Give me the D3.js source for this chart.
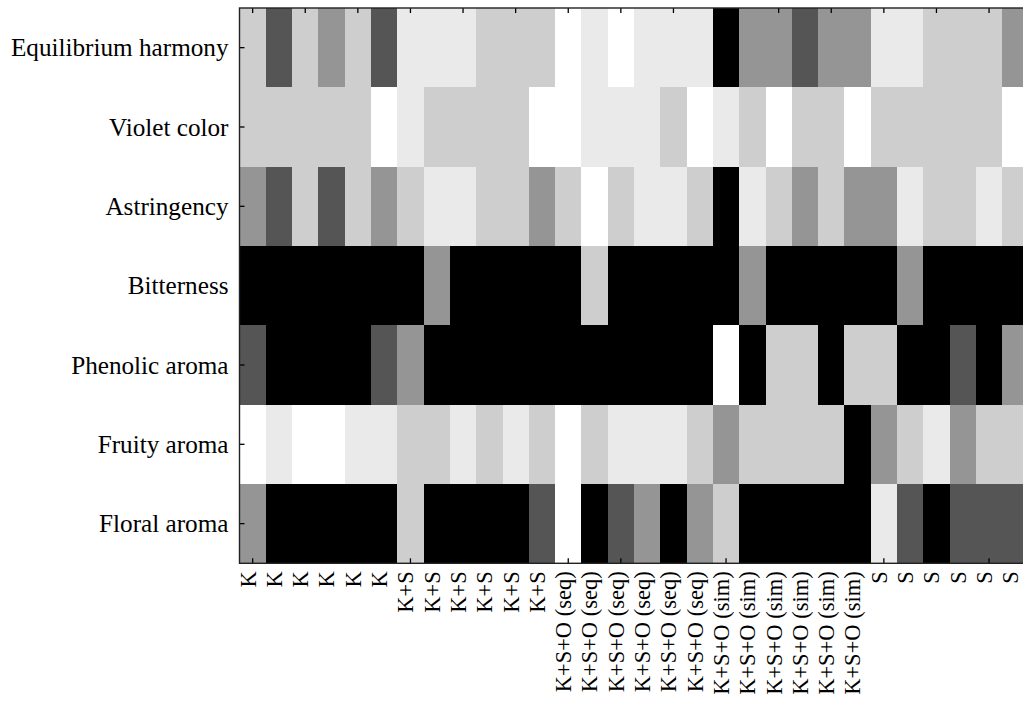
<!DOCTYPE html>
<html>
<head>
<meta charset="utf-8">
<script src="https://cdn.jsdelivr.net/npm/d3@7"></script>
<style>
  html, body { margin: 0; padding: 0; background: #fff; }
  svg { display: block; }
  text { font-family: "Liberation Serif", "Times New Roman", serif; fill: #000; }
</style>
</head>
<body>
<svg id="chart" width="1023" height="701"></svg>
<script>
// attributes, top to bottom
const attributes = [
  "Equilibrium harmony",
  "Violet color",
  "Astringency",
  "Bitterness",
  "Phenolic aroma",
  "Fruity aroma",
  "Floral aroma"
];

// treatments, 6 replicates each
const treatments = ["K", "K+S", "K+S+O (seq)", "K+S+O (sim)", "S"];
const samples = treatments.flatMap(t => [t, t, t, t, t, t]);

// shade level per sample (0 = white ... 5 = black)
const equilibriumHarmony = [2,4,2,3,2,4, 1,1,1,2,2,2, 0,1,0,1,1,1, 5,3,3,4,3,3, 1,1,2,2,2,3];
const violetColor        = [2,2,2,2,2,0, 1,2,2,2,2,0, 0,1,1,1,2,0, 1,2,0,2,2,0, 2,2,2,2,2,0];
const astringency        = [3,4,2,4,2,3, 2,1,1,2,2,3, 2,0,2,1,1,2, 5,1,2,3,2,3, 3,1,2,2,1,2];
const bitterness         = [5,5,5,5,5,5, 5,3,5,5,5,5, 5,2,5,5,5,5, 5,3,5,5,5,5, 5,3,5,5,5,5];
const phenolicAroma      = [4,5,5,5,5,4, 3,5,5,5,5,5, 5,5,5,5,5,5, 0,5,2,2,5,2, 2,5,5,4,5,3];
const fruityAroma        = [0,1,0,0,1,1, 2,2,1,2,1,2, 0,2,1,1,1,2, 3,2,2,2,2,5, 3,2,1,3,2,2];
const floralAroma        = [3,5,5,5,5,5, 2,5,5,5,5,4, 0,5,4,3,5,3, 2,5,5,5,5,5, 1,4,5,4,4,4];

const levels = [0, 1, 2, 3, 4, 5];
const grays = ["#ffffff", "#eaeaea", "#cecece", "#959595", "#555555", "#000000"];

const rows = [equilibriumHarmony, violetColor, astringency, bitterness,
              phenolicAroma, fruityAroma, floralAroma];

const cells = rows.flatMap((vals, r) =>
  vals.map((v, c) => ({ row: attributes[r], col: c, value: v })));

const svg = d3.select("#chart");

const plotLeft = 239.5, plotTop = 8;
const colW = 26.3;
const plotRight = plotLeft + samples.length * colW;
const plotBottom = 563.3;

const x = d3.scaleBand()
  .domain(d3.range(samples.length))
  .range([plotLeft, plotRight])
  .padding(0);

const y = d3.scaleBand()
  .domain(attributes)
  .range([plotTop, plotBottom])
  .padding(0);

const color = d3.scaleOrdinal().domain(levels).range(grays);

// cells
svg.append("g")
  .selectAll("rect")
  .data(cells)
  .join("rect")
  .attr("x", d => x(d.col))
  .attr("y", d => y(d.row))
  .attr("width", x.bandwidth() + 0.5)
  .attr("height", y.bandwidth() + 0.5)
  .attr("fill", d => color(d.value))
  .attr("shape-rendering", "crispEdges");

const evenCols = d3.range(0, samples.length, 2);

// inward tick marks on the four sides
const tickStyle = g => {
  g.select(".domain").remove();
  g.selectAll(".tick line").attr("stroke", "#000").attr("stroke-width", 1.3);
  g.selectAll(".tick text").remove();
};

svg.append("g")
  .attr("transform", `translate(0,${plotTop})`)
  .call(d3.axisTop(x).tickValues(evenCols).tickSize(-5))
  .call(tickStyle);

svg.append("g")
  .attr("transform", `translate(0,${plotBottom})`)
  .call(d3.axisBottom(x).tickValues(evenCols).tickSize(-5))
  .call(tickStyle);

svg.append("g")
  .attr("transform", `translate(${plotLeft},0)`)
  .call(d3.axisLeft(y).tickSize(-5))
  .call(tickStyle);

svg.append("g")
  .attr("transform", `translate(${plotRight},0)`)
  .call(d3.axisRight(y).tickSize(-5))
  .call(tickStyle);

// frame
svg.append("rect")
  .attr("x", plotLeft)
  .attr("y", plotTop)
  .attr("width", plotRight - plotLeft)
  .attr("height", plotBottom - plotTop)
  .attr("fill", "none")
  .attr("stroke", "#222")
  .attr("stroke-width", 1.4);

// row labels
svg.append("g")
  .selectAll("text")
  .data(attributes)
  .join("text")
  .attr("x", plotLeft - 11)
  .attr("y", d => y(d) + y.bandwidth() / 2)
  .attr("dy", "0.35em")
  .attr("text-anchor", "end")
  .style("font-size", "25.2px")
  .text(d => d);

// column labels, rotated
svg.append("g")
  .selectAll("text")
  .data(samples)
  .join("text")
  .attr("transform", (d, i) => `translate(${x(i) + x.bandwidth() / 2},${plotBottom + 8}) rotate(-90)`)
  .attr("dy", "0.13em")
  .attr("text-anchor", "end")
  .style("font-size", "22.5px")
  .text(d => d);
</script>
</body>
</html>
